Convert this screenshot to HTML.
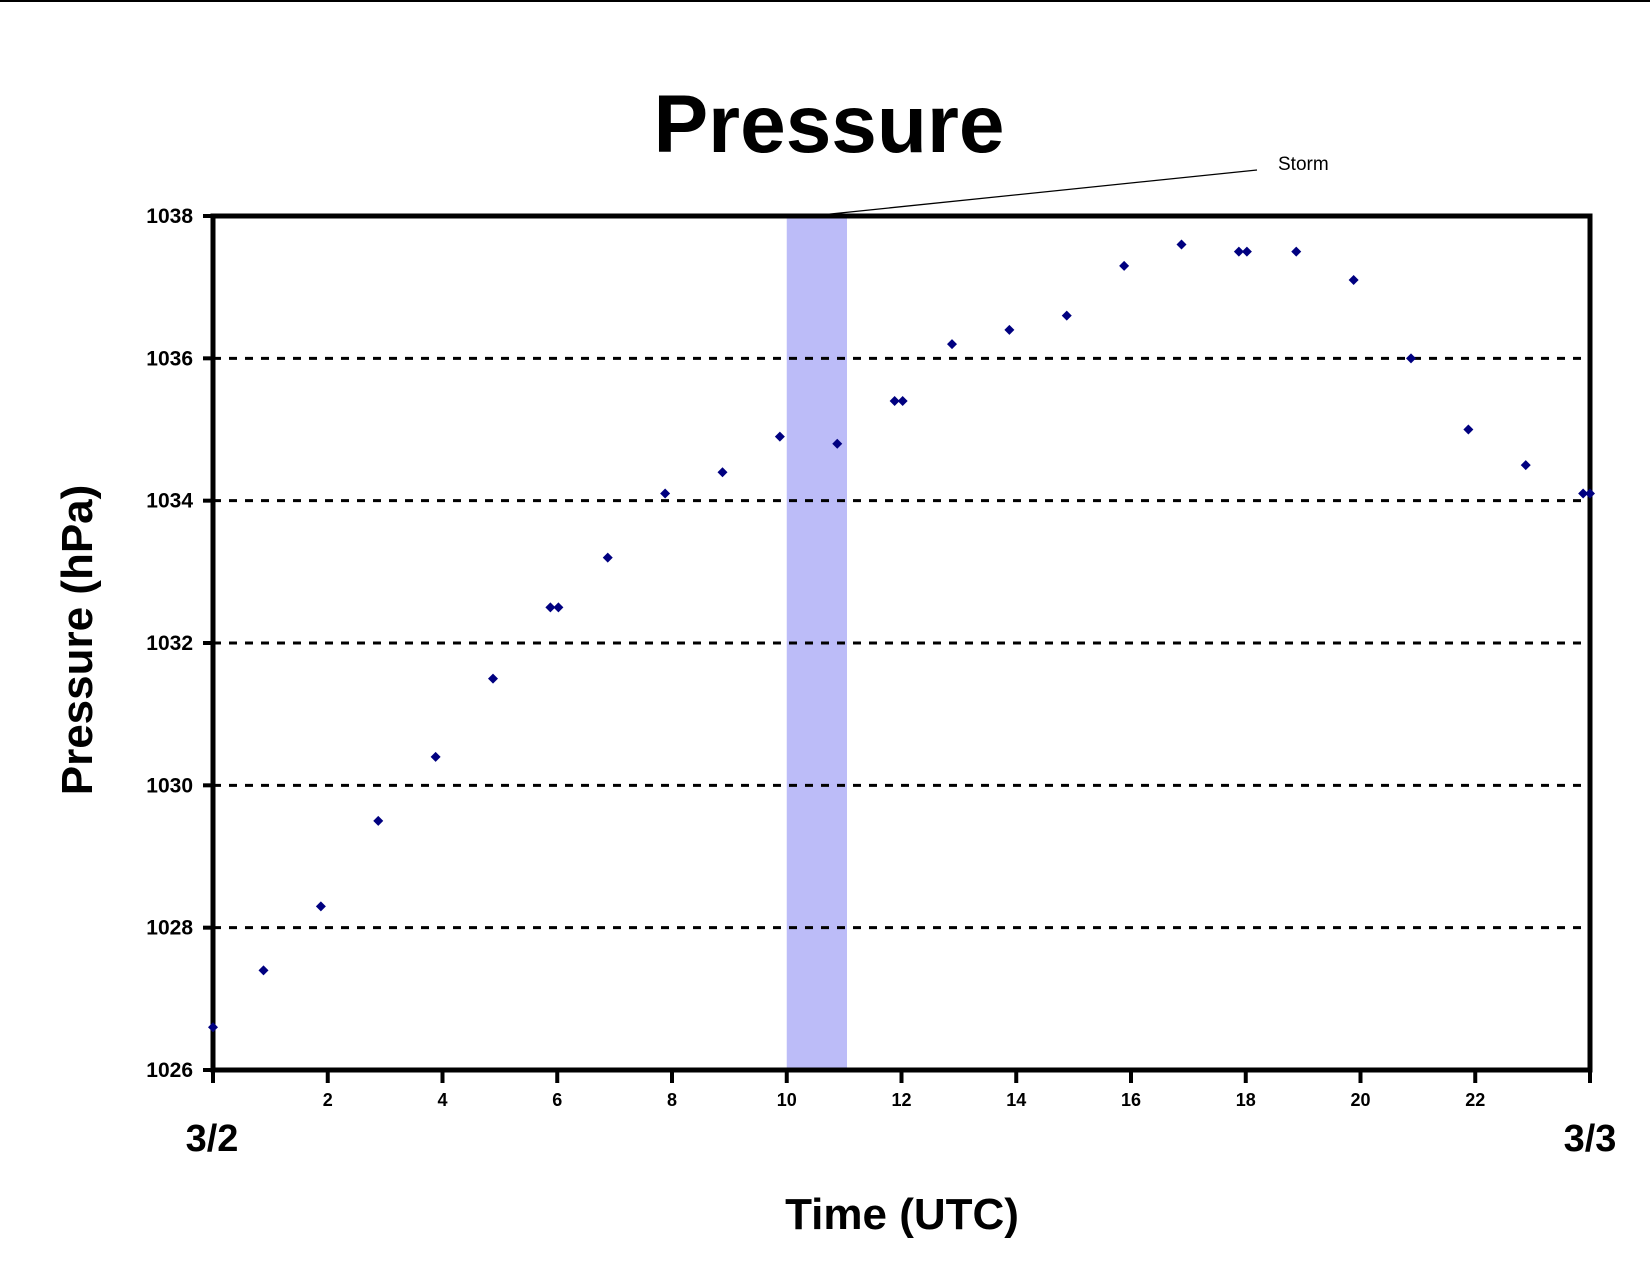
<!DOCTYPE html>
<html><head><meta charset="utf-8"><style>body{margin:0;background:#fff}svg{display:block;font-family:"Liberation Sans",Arial,sans-serif}</style></head>
<body>
<svg width="1650" height="1275" viewBox="0 0 1650 1275">
<line x1="0" y1="1" x2="1650" y2="1" stroke="#000" stroke-width="2"/>
<text x="829" y="152" font-size="82" font-weight="bold" text-anchor="middle">Pressure</text>
<g id="plot"></g>
<text x="902" y="1229" font-size="44" font-weight="bold" text-anchor="middle">Time (UTC)</text>
<text transform="translate(92,640) rotate(-90)" font-size="44" font-weight="bold" text-anchor="middle">Pressure (hPa)</text>
<text x="212" y="1151" font-size="38" font-weight="bold" text-anchor="middle">3/2</text>
<text x="1590" y="1151" font-size="38" font-weight="bold" text-anchor="middle">3/3</text>
<text x="1278" y="170" font-size="19">Storm</text>
<line x1="1257" y1="170" x2="811" y2="216" stroke="#000" stroke-width="1.3"/>
</svg>
<script>
const hours=[0,0.88,1.88,2.88,3.88,4.88,5.88,6.02,6.88,7.88,8.88,9.88,10.88,11.88,12.02,12.88,13.88,14.88,15.88,16.88,17.88,18.02,18.88,19.88,20.88,21.88,22.88,23.88,24];
const pressure=[1026.6,1027.4,1028.3,1029.5,1030.4,1031.5,1032.5,1032.5,1033.2,1034.1,1034.4,1034.9,1034.8,1035.4,1035.4,1036.2,1036.4,1036.6,1037.3,1037.6,1037.5,1037.5,1037.5,1037.1,1036.0,1035.0,1034.5,1034.1,1034.1];
const yTicks=[1026,1028,1030,1032,1034,1036,1038];
const xTicks=[2,4,6,8,10,12,14,16,18,20,22];
const storm=[10,11.05];
const X0=213,X1=1590,Y0=1070,Y1=216;
const sx=h=>X0+(h-0)/24*(X1-X0);
const sy=p=>Y0-(p-1026)/12*(Y0-Y1);
const NS="http://www.w3.org/2000/svg";
const g=document.getElementById('plot');
function mk(t,a){const e=document.createElementNS(NS,t);for(const k in a)e.setAttribute(k,a[k]);g.appendChild(e);return e;}
let r=mk('rect',{x:sx(storm[0]),y:Y1,width:sx(storm[1])-sx(storm[0]),height:Y0-Y1,fill:'#bcbcf8'});


yTicks.forEach(v=>{
 if(v>1026&&v<1038){const l=mk('line',{x1:X0,x2:X1,y1:sy(v),y2:sy(v),stroke:'#000','stroke-width':3,'stroke-dasharray':'8 8'});
 
 }
 const tk=mk('line',{x1:X0-10,x2:X0,y1:sy(v),y2:sy(v),stroke:'#000','stroke-width':4});
 
 
 const t=mk('text',{x:X0-20,y:sy(v)+7,'font-size':21,'font-weight':'bold','text-anchor':'end'});t.textContent=v;
 
 
});
[0,24].concat(xTicks).forEach(v=>{
 const tk=mk('line',{x1:sx(v),x2:sx(v),y1:Y0,y2:Y0+13,stroke:'#000','stroke-width':4});
 
 
});
xTicks.forEach(v=>{
 const t=mk('text',{x:sx(v),y:Y0+36,'font-size':18,'font-weight':'bold','text-anchor':'middle'});t.textContent=v;
 
 
});
const fr=mk('rect',{x:X0,y:Y1,width:X1-X0,height:Y0-Y1,fill:'none',stroke:'#000','stroke-width':5});


hours.forEach((h,i)=>{
 const x=sx(h),y=sy(pressure[i]),s=5;
 const p=mk('polygon',{points:`${x},${y-s} ${x+s},${y} ${x},${y+s} ${x-s},${y}`,fill:'#000080'});
 
 
});
</script>
</body></html>
